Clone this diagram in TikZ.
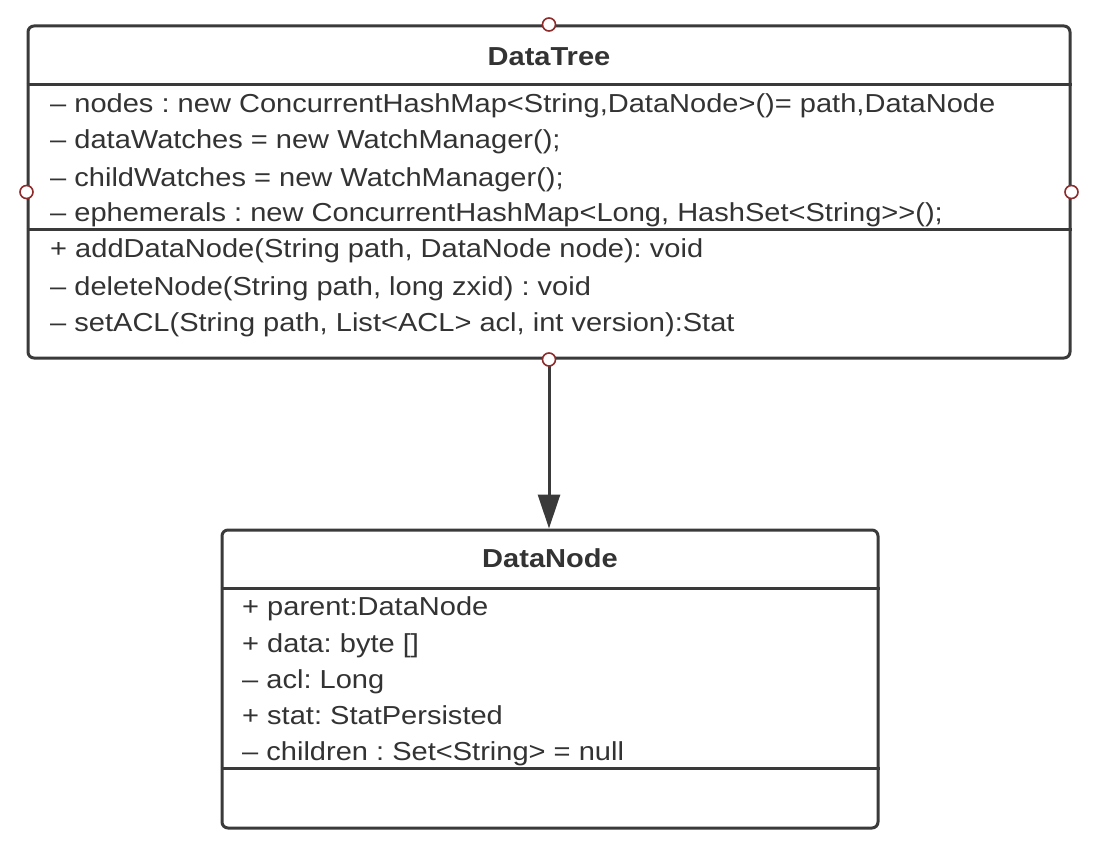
\documentclass[tikz,border=0pt]{standalone}
\usepackage{fontspec}
\setmainfont{Liberation Sans}
\usetikzlibrary{arrows.meta}
\definecolor{ln}{HTML}{3A3A3A}
\definecolor{tx}{HTML}{333333}
\definecolor{pt}{HTML}{8E2B2B}
\newcommand{\wt}[1]{\scalebox{1.117}[1]{#1}}
\frenchspacing
\tikzset{
 umlbox/.style={draw=ln, line width=3pt, rounded corners=6pt, fill=white, inner sep=0pt},
 sepline/.style={draw=ln, line width=3pt},
 attr/.style={anchor=base west, inner sep=0pt, text=tx, font=\fontsize{26}{30}\selectfont},
 ttl/.style={anchor=base, inner sep=0pt, text=tx, font=\bfseries\fontsize{26}{30}\selectfont},
 port/.style={circle, draw=pt, fill=white, line width=1.6pt, minimum size=13pt, inner sep=0pt},
 conn/.style={draw=ln, line width=3pt, -{Triangle[length=34pt,width=22pt]}}
}
\begin{document}
\begin{tikzpicture}[x=1pt,y=-1pt]
\useasboundingbox (0,0) rectangle (1096,848);
\fill[white] (0,0) rectangle (1096,848);
% boxes
\node[umlbox, minimum width=1042pt, minimum height=332pt] (tree) at (549,192) {};
\node[umlbox, minimum width=656pt, minimum height=298pt] (dn) at (550,679) {};
% separators
\draw[sepline] (tree.west |- 0,85) -- (tree.east |- 0,85);
\draw[sepline] (tree.west |- 0,230) -- (tree.east |- 0,230);
\draw[sepline] (dn.west |- 0,588) -- (dn.east |- 0,588);
\draw[sepline] (dn.west |- 0,768) -- (dn.east |- 0,768);
% DataTree texts
\node[ttl] (t0) at (549,66) {\wt{DataTree}};
\node[attr] (t1) at (50,113) {\wt{– nodes : new ConcurrentHashMap<String,DataNode>()= path,DataNode}};
\node[attr] (t2) at (50,149) {\wt{– dataWatches = new WatchManager();}};
\node[attr] (t3) at (50,186) {\wt{– childWatches = new WatchManager();}};
\node[attr] (t4) at (50,222) {\wt{– ephemerals : new ConcurrentHashMap<Long, HashSet<String>\kern0pt>();}};
\node[attr] (t5) at (50,258) {\wt{+ addDataNode(String path, DataNode node): void}};
\node[attr] (t6) at (50,295) {\wt{– deleteNode(String path, long zxid) : void}};
\node[attr] (t7) at (50,331) {\wt{– setACL(String path, List<ACL> acl, int version):Stat}};
% DataNode texts
\node[ttl] (d0) at (550,567) {\wt{DataNode}};
\node[attr] (d1) at (242,615) {\wt{+ parent:DataNode}};
\node[attr] (d2) at (242,652) {\wt{+ data: byte []}};
\node[attr] (d3) at (242,688) {\wt{– acl: Long}};
\node[attr] (d4) at (242,724) {\wt{+ stat: StatPersisted}};
\node[attr] (d5) at (242,760) {\wt{– children : Set<String> = null}};
% connector
\draw[conn] (tree.south) -- (tree.south |- dn.north);
% ports
\node[port] (pn) at (tree.north) {};
\node[port] (pw) at (tree.west) {};
\node[port] (pe) at (tree.east) {};
\node[port] (ps) at (tree.south) {};
\end{tikzpicture}
\end{document}
